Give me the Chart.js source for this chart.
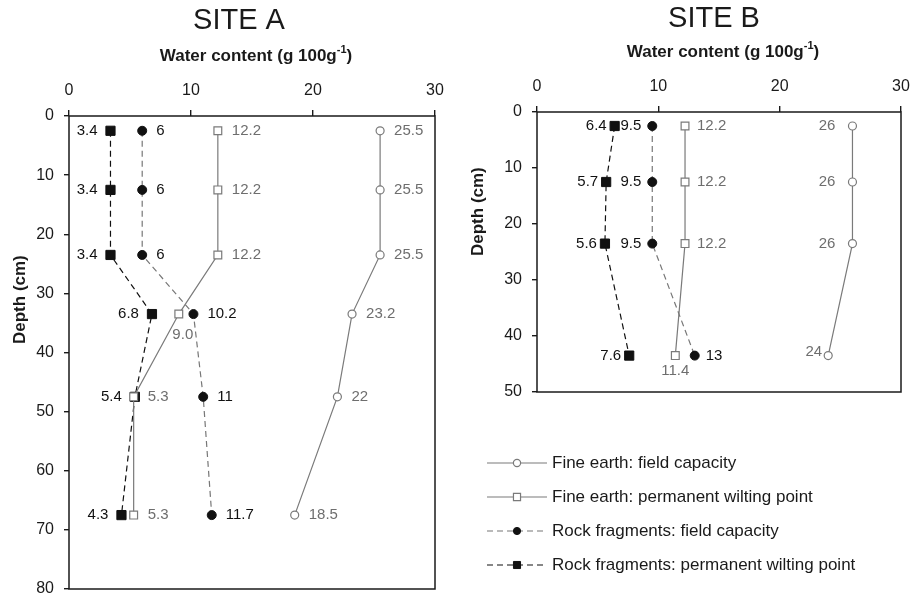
<!DOCTYPE html>
<html>
<head>
<meta charset="utf-8">
<script src="https://cdn.jsdelivr.net/npm/chart.js@4.4.1/dist/chart.umd.min.js"></script>
<style>
  html, body { margin: 0; padding: 0; background: #fff; }
  #wrapA { position: absolute; left: 0; top: 0; width: 455px; height: 594px; }
  #wrapB { position: absolute; left: 455px; top: 0; width: 460px; height: 594px; }
</style>
</head>
<body>
<div id="wrapA"><canvas id="chartA" width="455" height="594"></canvas></div>
<div id="wrapB"><canvas id="chartB" width="460" height="594"></canvas></div>
<script>
// data (depth in cm, water content in g/100g)
const depthA = [2.5, 12.5, 23.5, 33.5, 47.5, 67.5];
const fineFcA = [25.5, 25.5, 25.5, 23.2, 22, 18.5];
const finePwpA = [12.2, 12.2, 12.2, 9.0, 5.3, 5.3];
const rockFcA = [6, 6, 6, 10.2, 11, 11.7];
const rockPwpA = [3.4, 3.4, 3.4, 6.8, 5.4, 4.3];

const depthB = [2.5, 12.5, 23.5, 43.5];
const fineFcB = [26, 26, 26, 24];
const finePwpB = [12.2, 12.2, 12.2, 11.4];
const rockFcB = [9.5, 9.5, 9.5, 13];
const rockPwpB = [6.4, 5.7, 5.6, 7.6];

const xTicks = [0, 10, 20, 30];
const seriesNames = [
  'Fine earth: field capacity',
  'Fine earth: permanent wilting point',
  'Rock fragments: field capacity',
  'Rock fragments: permanent wilting point'
];

// where each value label sits: r = right, l = left, L = tight left/up, b/B = below
const sidesA = ['rrrrrr', 'rrrBrr', 'rrrrrr', 'llllll'];
const sidesB = ['lllL', 'rrrb', 'lllr', 'llll'];

const FONT = '"Liberation Sans", Arial, Helvetica, sans-serif';
const GREY = '#7a7a7a';
const INK = '#1a1a1a';

function pts(xs, ys) {
  return xs.map((v, i) => ({ x: v, y: ys[i] }));
}

function makeDatasets(depth, fFc, fPwp, rFc, rPwp, sides, gaps) {
  return [
    { label: seriesNames[0], data: pts(fFc, depth), borderColor: GREY, borderWidth: 1.2,
      pointStyle: 'circle', pointRadius: 4, pointBackgroundColor: '#fff', pointBorderColor: GREY,
      pointBorderWidth: 1.2, labelColor: '#6e6e6e', sides: sides[0], gap: gaps[0] },
    { label: seriesNames[1], data: pts(fPwp, depth), borderColor: GREY, borderWidth: 1.2,
      pointStyle: 'rect', pointRadius: 5.5, pointBackgroundColor: '#fff', pointBorderColor: GREY,
      pointBorderWidth: 1.2, labelColor: '#6e6e6e', sides: sides[1], gap: gaps[1], decimals: 1 },
    { label: seriesNames[2], data: pts(rFc, depth), borderColor: '#777', borderWidth: 1.2, borderDash: [6, 4],
      pointStyle: 'circle', pointRadius: 4.5, pointBackgroundColor: '#111', pointBorderColor: '#111',
      pointBorderWidth: 1, labelColor: '#111', sides: sides[2], gap: gaps[2] },
    { label: seriesNames[3], data: pts(rPwp, depth), borderColor: '#111', borderWidth: 1.2, borderDash: [6, 4],
      pointStyle: 'rect', pointRadius: 6.5, pointBackgroundColor: '#111', pointBorderColor: '#111',
      pointBorderWidth: 1, labelColor: '#111', sides: sides[3], gap: gaps[3] }
  ];
}

function makeScales(yMax, topH, leftW) {
  return {
    x: {
      type: 'linear', position: 'top', min: 0, max: 30,
      afterBuildTicks: s => { s.ticks = xTicks.map(v => ({ value: v })); },
      ticks: { color: INK, font: { family: FONT, size: 16 }, padding: 10 },
      grid: { drawOnChartArea: false, tickLength: 6, color: INK, lineWidth: 1.4 },
      border: { display: false },
      afterFit: s => { s.height = topH; s.paddingLeft = 0; s.paddingRight = 0; }
    },
    y: {
      type: 'linear', reverse: true, min: 0, max: yMax,
      ticks: { stepSize: 10, color: INK, font: { family: FONT, size: 16 }, padding: 10 },
      grid: { drawOnChartArea: false, tickLength: 5, color: INK, lineWidth: 1.4 },
      border: { display: false },
      afterFit: s => { s.width = leftW; s.paddingTop = 0; s.paddingBottom = 0; }
    }
  };
}

function drawWaterTitle(ctx, cx, cy) {
  const f1 = 'bold 17px ' + FONT, f2 = 'bold 11px ' + FONT;
  const p1 = 'Water content (g 100g', p2 = '-1', p3 = ')';
  ctx.font = f1;
  const w1 = ctx.measureText(p1).width, w3 = ctx.measureText(p3).width;
  ctx.font = f2;
  const w2 = ctx.measureText(p2).width;
  let x = cx - (w1 + w2 + w3) / 2;
  ctx.textAlign = 'left';
  ctx.textBaseline = 'middle';
  ctx.fillStyle = INK;
  ctx.font = f1; ctx.fillText(p1, x, cy); x += w1;
  ctx.font = f2; ctx.fillText(p2, x, cy - 6); x += w2;
  ctx.font = f1; ctx.fillText(p3, x, cy);
}

const decor = {
  id: 'decor',
  afterDraw(chart, args, o) {
    const ctx = chart.ctx, a = chart.chartArea;
    ctx.save();
    // frame
    ctx.strokeStyle = INK;
    ctx.lineWidth = 1.5;
    ctx.strokeRect(a.left, a.top, a.right - a.left, a.bottom - a.top);

    // value labels
    ctx.font = '15px ' + FONT;
    ctx.textBaseline = 'middle';
    chart.data.datasets.forEach((ds, i) => {
      chart.getDatasetMeta(i).data.forEach((pt, j) => {
        const v = ds.data[j].x;
        const txt = ds.decimals ? v.toFixed(ds.decimals) : String(v);
        const side = ds.sides[j];
        let x = pt.x, y = pt.y;
        ctx.fillStyle = ds.labelColor;
        if (side === 'r') { ctx.textAlign = 'left'; x += ds.gap; }
        else if (side === 'l') { ctx.textAlign = 'right'; x -= ds.gap; }
        else if (side === 'L') { ctx.textAlign = 'right'; x -= 6; y -= 4; }
        else if (side === 'b') { ctx.textAlign = 'center'; y += 15; }
        else if (side === 'B') { ctx.textAlign = 'center'; x += 4; y += 21; }
        ctx.fillText(txt, x, y);
      });
    });

    // titles
    ctx.fillStyle = INK;
    ctx.textAlign = 'center';
    ctx.textBaseline = 'middle';
    ctx.font = '29px ' + FONT;
    ctx.fillText(o.title, o.titleX, o.titleY);
    drawWaterTitle(ctx, o.waterX, o.waterY);
    ctx.save();
    ctx.translate(o.depthX, o.depthY);
    ctx.rotate(-Math.PI / 2);
    ctx.font = 'bold 17px ' + FONT;
    ctx.fillText('Depth (cm)', 0, 0);
    ctx.restore();

    // legend (only on site B)
    if (o.legend) {
      chart.data.datasets.forEach((ds, i) => {
        const y = o.legendY + i * 34;
        ctx.strokeStyle = ds.borderColor;
        ctx.lineWidth = ds.borderWidth;
        ctx.setLineDash(ds.borderDash || []);
        ctx.beginPath();
        ctx.moveTo(o.legendX, y);
        ctx.lineTo(o.legendX + 60, y);
        ctx.stroke();
        ctx.setLineDash([]);
        ctx.fillStyle = ds.pointBackgroundColor;
        ctx.strokeStyle = ds.pointBorderColor;
        ctx.lineWidth = ds.pointBorderWidth;
        Chart.helpers.drawPoint(ctx, {
          pointStyle: ds.pointStyle,
          radius: ds.pointStyle === 'rect' ? 5 : 3.6,
          borderWidth: ds.pointBorderWidth, rotation: 0
        }, o.legendX + 30, y);
        ctx.fillStyle = INK;
        ctx.textAlign = 'left';
        ctx.font = '17px ' + FONT;
        ctx.fillText(ds.label, o.legendX + 65, y);
      });
    }
    ctx.restore();
  }
};

function makeChart(id, datasets, scales, padding, decorOpts) {
  return new Chart(document.getElementById(id), {
    type: 'scatter',
    data: { datasets: datasets },
    options: {
      responsive: false,
      animation: false,
      layout: { padding: padding, autoPadding: false },
      showLine: true,
      elements: { line: { tension: 0 } },
      scales: scales,
      plugins: { legend: { display: false }, tooltip: { enabled: false }, decor: decorOpts }
    },
    plugins: [decor]
  });
}

makeChart('chartA',
  makeDatasets(depthA, fineFcA, finePwpA, rockFcA, rockPwpA, sidesA, [14, 14, 14, 13]),
  makeScales(80, 116, 69),
  { top: 0, left: 0, right: 20, bottom: 5 },
  { title: 'SITE A', titleX: 239, titleY: 21, waterX: 256, waterY: 56, depthX: 20, depthY: 344 });

makeChart('chartB',
  makeDatasets(depthB, fineFcB, finePwpB, rockFcB, rockPwpB, sidesB, [17, 12, 11, 8]),
  makeScales(50, 112, 82),
  { top: 0, left: 0, right: 14, bottom: 202 },
  { title: 'SITE B', titleX: 259, titleY: 19, waterX: 268, waterY: 52, depthX: 23, depthY: 256,
    legend: true, legendX: 32, legendY: 463 });
</script>
</body>
</html>
